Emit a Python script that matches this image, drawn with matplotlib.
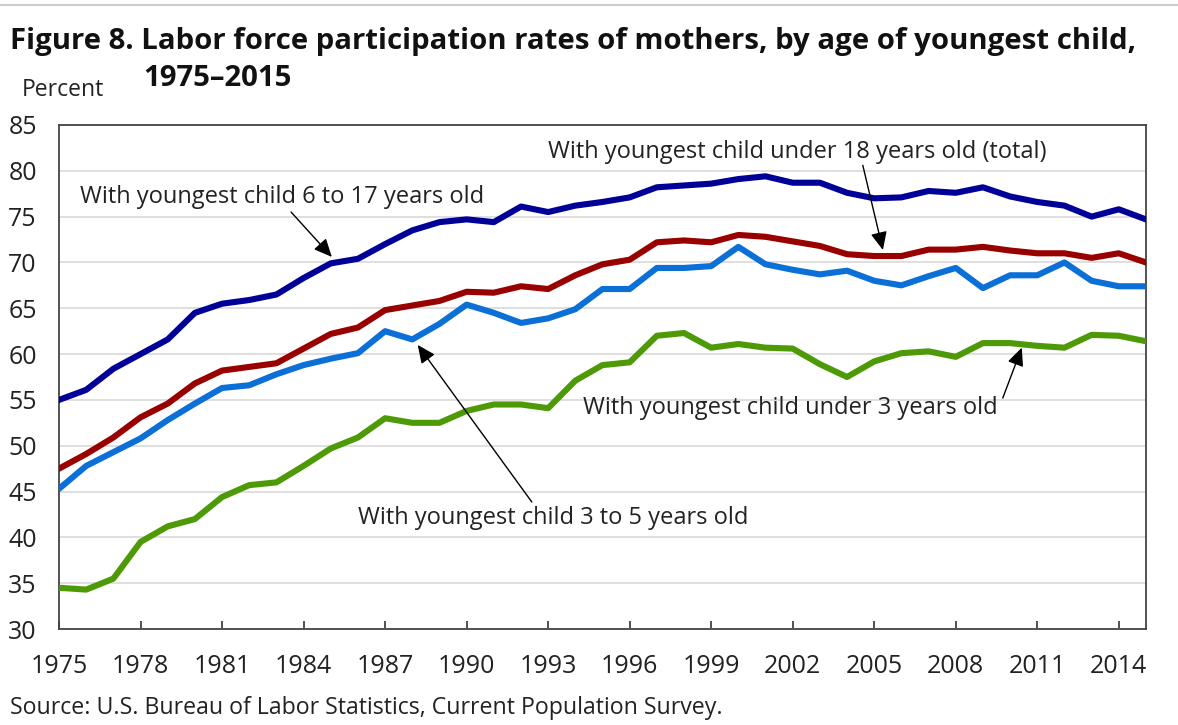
import matplotlib
matplotlib.use("Agg")
import matplotlib.pyplot as plt
from matplotlib.lines import Line2D

years = list(range(1975, 2016))

age_6_17 = [55.0, 56.1, 58.4, 60.0, 61.6, 64.5, 65.5, 65.9, 66.5, 68.3,
            69.9, 70.4, 72.0, 73.5, 74.4, 74.7, 74.4, 76.1, 75.5, 76.2,
            76.6, 77.1, 78.2, 78.4, 78.6, 79.1, 79.4, 78.7, 78.7, 77.6,
            77.0, 77.1, 77.8, 77.6, 78.2, 77.2, 76.6, 76.2, 75.0, 75.8, 74.7]

total_under_18 = [47.5, 49.1, 50.9, 53.1, 54.6, 56.8, 58.2, 58.6, 59.0, 60.6,
                  62.2, 62.9, 64.8, 65.3, 65.8, 66.8, 66.7, 67.4, 67.1, 68.6,
                  69.8, 70.3, 72.2, 72.4, 72.2, 73.0, 72.8, 72.3, 71.8, 70.9,
                  70.7, 70.7, 71.4, 71.4, 71.7, 71.3, 71.0, 71.0, 70.5, 71.0, 70.0]

age_3_5 = [45.3, 47.8, 49.3, 50.8, 52.8, 54.6, 56.3, 56.6, 57.8, 58.8,
           59.5, 60.1, 62.5, 61.6, 63.3, 65.4, 64.5, 63.4, 63.9, 64.9,
           67.1, 67.1, 69.4, 69.4, 69.6, 71.7, 69.8, 69.2, 68.7, 69.1,
           68.0, 67.5, 68.5, 69.4, 67.2, 68.6, 68.6, 70.0, 68.0, 67.4, 67.4]

under_3 = [34.5, 34.3, 35.5, 39.5, 41.2, 42.0, 44.4, 45.7, 46.0, 47.8,
           49.7, 50.9, 53.0, 52.5, 52.5, 53.8, 54.5, 54.5, 54.1, 57.1,
           58.8, 59.1, 62.0, 62.3, 60.7, 61.1, 60.7, 60.6, 58.9, 57.5,
           59.2, 60.1, 60.3, 59.7, 61.2, 61.2, 60.9, 60.7, 62.1, 62.0, 61.4]

y_ticks = [30, 35, 40, 45, 50, 55, 60, 65, 70, 75, 80, 85]
x_ticks = list(range(1975, 2015, 3))

FONT = ["Open Sans", "DejaVu Sans"]
plt.rcParams["font.family"] = FONT

fig = plt.figure(figsize=(11.78, 7.25), dpi=100)
ax = fig.add_axes([0.0501, 0.1324, 0.9227, 0.6952])

ax.plot(years, age_6_17, color="#000099", lw=4.4, solid_joinstyle="round", zorder=3)
ax.plot(years, total_under_18, color="#990000", lw=4.4, solid_joinstyle="round", zorder=3)
ax.plot(years, age_3_5, color="#0a6fd6", lw=4.4, solid_joinstyle="round", zorder=3)
ax.plot(years, under_3, color="#4d9a06", lw=4.4, solid_joinstyle="round", zorder=3)

ax.set_xlim(1975, 2015)
ax.set_ylim(30, 85)
ax.set_yticks(y_ticks)
ax.set_xticks(x_ticks)
ax.set_xticklabels([str(x) for x in x_ticks])
ax.grid(axis="y", color="#dcdcdc", lw=1.3, zorder=0)
ax.tick_params(axis="y", length=0, pad=16, labelsize=18, colors="#222222")
ax.tick_params(axis="x", direction="in", length=6, width=1.2, pad=18,
               labelsize=18, colors="#333333", labelcolor="#222222")
for s in ax.spines.values():
    s.set_color("#444444")
    s.set_linewidth(1.3)

txt_kw = dict(fontsize=17, color="#222222", ha="center", va="center")
arrow_kw = dict(arrowstyle="-|>,head_length=0.55,head_width=0.25",
                color="black", lw=1, shrinkA=0, shrinkB=0, mutation_scale=20)

ax.text(1983.2, 77.1, "With youngest child 6 to 17 years old", **txt_kw)
ax.annotate("", xy=(1985.04, 70.6), xytext=(1983.54, 75.5), arrowprops=arrow_kw)

ax.text(2002.15, 82.05, "With youngest child under 18 years old (total)", **txt_kw)
ax.annotate("", xy=(2005.32, 71.36), xytext=(2004.58, 80.6), arrowprops=arrow_kw)

ax.text(1993.2, 42.1, "With youngest child 3 to 5 years old", **txt_kw)
ax.annotate("", xy=(1988.2, 61.0), xytext=(1992.4, 43.86), arrowprops=arrow_kw)

ax.text(2001.9, 54.1, "With youngest child under 3 years old", **txt_kw)
ax.annotate("", xy=(2010.43, 60.7), xytext=(2009.73, 55.2), arrowprops=arrow_kw)

fig.text(10 / 1178, 1 - 42 / 725,
         "Figure 8. Labor force participation rates of mothers, by age of youngest child,",
         fontsize=21.2, fontweight="bold", ha="left", va="center", color="#111111")
fig.text(143 / 1178, 1 - 79 / 725, "1975\u20132015",
         fontsize=21.2, fontweight="bold", ha="left", va="center", color="#111111")
fig.text(22 / 1178, 1 - 90 / 725, "Percent", fontsize=16.5, ha="left",
         va="center", color="#222222")
fig.text(10 / 1178, 1 - 708 / 725,
         "Source: U.S. Bureau of Labor Statistics, Current Population Survey.",
         fontsize=16.7, ha="left", va="center", color="#222222")

fig.add_artist(Line2D([0, 1], [1 - 5 / 725, 1 - 5 / 725], color="#cccccc", lw=1.5,
                      transform=fig.transFigure))

fig.savefig("out.png", dpi=100)
